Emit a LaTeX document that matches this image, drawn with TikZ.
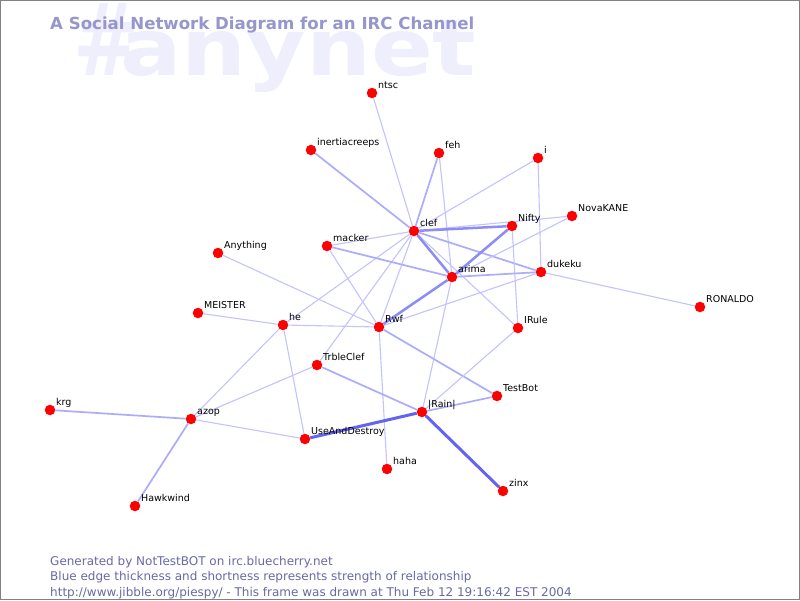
\documentclass[tikz,border=0pt]{standalone}
\usepackage{fontspec}
\setmainfont{DejaVu Sans}
\usepackage{graphicx}
\pgfdeclarelayer{bg}
\pgfdeclarelayer{edges}
\pgfsetlayers{bg,edges,main}
\definecolor{edgeT}{RGB}{195,195,255}
\definecolor{edgeM}{RGB}{172,172,252}
\definecolor{edgeK}{RGB}{140,140,246}
\definecolor{edgeKK}{RGB}{100,100,240}
\definecolor{titlec}{RGB}{150,150,205}
\definecolor{wmark}{RGB}{238,238,252}
\definecolor{footc}{RGB}{105,105,165}
\definecolor{framec}{RGB}{130,130,130}
\tikzset{
  dot/.style={circle,fill=red,inner sep=0pt,minimum size=10.5pt},
  lbl/.style={anchor=base west,inner sep=0pt,font=\fontsize{9.5}{10}\selectfont,text=black},
  et/.style={draw=edgeT,line width=1.1pt},
  em/.style={draw=edgeM,line width=1.7pt},
  ek/.style={draw=edgeK,line width=2.5pt},
  ekk/.style={draw=edgeKK,line width=3pt},
  foot/.style={anchor=base west,inner sep=0pt,font=\fontsize{12}{13}\selectfont,text=footc},
}
\newcommand\person[4]{%
  \node[dot] (#1) at (#2,#3) {};
  \node[lbl] (#1-l) at (#2+6,#3-5) {#4};}
\begin{document}
\begin{tikzpicture}[x=1pt,y=-1pt]
\useasboundingbox (0,0) rectangle (800,600);
\begin{pgfonlayer}{bg}
\fill[white] (0,0) rectangle (800,600);
\node[anchor=base west,inner sep=0pt,text=wmark] (wmhash) at (73,75)
  {\resizebox{66pt}{72pt}{\fontsize{80}{80}\selectfont\bfseries\#}};
\node[anchor=base west,inner sep=0pt,text=wmark] (wm) at (120,75)
  {\scalebox{1.16}[1]{\fontsize{78.6}{80}\selectfont\bfseries anynet}};
\end{pgfonlayer}
\node[anchor=base west,inner sep=0pt,text=titlec] (title) at (50,29)
  {\resizebox{424pt}{!}{\fontsize{17}{18}\selectfont\bfseries A Social Network Diagram for an IRC Channel}};
% people
\person{ntsc}{372}{93}{ntsc}
\person{inertia}{311}{150}{inertiacreeps}
\person{feh}{439}{153}{feh}
\person{i}{538}{158}{i}
\person{nova}{572}{216}{NovaKANE}
\person{nifty}{512}{226}{Nifty}
\person{clef}{414}{231}{clef}
\person{macker}{327}{246}{macker}
\person{anything}{218}{253}{Anything}
\person{arima}{452}{277}{arima}
\person{dukeku}{541}{272}{dukeku}
\person{ronaldo}{700}{307}{RONALDO}
\person{meister}{198}{313}{MEISTER}
\person{he}{283}{325}{he}
\person{rwf}{379}{327}{Rwf}
\person{irule}{518}{328}{IRule}
\person{trble}{317}{365}{TrbleClef}
\person{testbot}{497}{396}{TestBot}
\person{krg}{50}{410}{krg}
\person{rain}{422}{412}{|Rain|}
\person{azop}{191}{419}{azop}
\person{use}{305}{439}{UseAndDestroy}
\person{haha}{387}{469}{haha}
\person{zinx}{503}{491}{zinx}
\person{hawk}{135}{506}{Hawkwind}
\begin{pgfonlayer}{edges}
\path[et] (ntsc) -- (clef);
\path[em] (inertia) -- (clef);
\path[em] (feh) -- (clef);
\path[et] (feh) -- (arima);
\path[et] (i) -- (clef);
\path[et] (i) -- (dukeku);
\path[et] (clef) -- (nova);
\path[em] (clef) -- (dukeku);
\path[et] (clef) -- (irule);
\path[et] (clef) -- (macker);
\path[et] (clef) -- (he);
\path[et] (clef) -- (trble);
\path[et] (clef) -- (rwf);
\path[et] (nifty) -- (irule);
\path[et] (arima) -- (nova);
\path[em] (arima) -- (dukeku);
\path[em] (arima) -- (macker);
\path[et] (arima) -- (rain);
\path[et] (dukeku) -- (rwf);
\path[et] (dukeku) -- (ronaldo);
\path[et] (macker) -- (rwf);
\path[et] (anything) -- (rwf);
\path[et] (meister) -- (he);
\path[et] (he) -- (rwf);
\path[et] (he) -- (azop);
\path[et] (he) -- (use);
\path[em] (rwf) -- (testbot);
\path[et] (rwf) -- (haha);
\path[em] (trble) -- (rain);
\path[et] (trble) -- (azop);
\path[et] (irule) -- (rain);
\path[em] (rain) -- (testbot);
\path[em] (azop) -- (krg);
\path[et] (azop) -- (use);
\path[em] (azop) -- (hawk);
\path[ek] (clef) -- (nifty);
\path[ek] (clef) -- (arima);
\path[ek] (nifty) -- (arima);
\path[ek] (arima) -- (rwf);
\path[ekk] (rain) -- (use);
\path[ekk] (rain) -- (zinx);
\end{pgfonlayer}
\node[foot] (f1) at (50,565) {Generated by NotTestBOT on irc.bluecherry.net};
\node[foot] (f2) at (50,580) {Blue edge thickness and shortness represents strength of relationship};
\node[foot] (f3) at (50,596) {http://www.jibble.org/piespy/ - This frame was drawn at Thu Feb 12 19:16:42 EST 2004};
\draw[framec,line width=1pt] (0.5,0.5) rectangle (799.5,599.5);
\end{tikzpicture}
\end{document}
